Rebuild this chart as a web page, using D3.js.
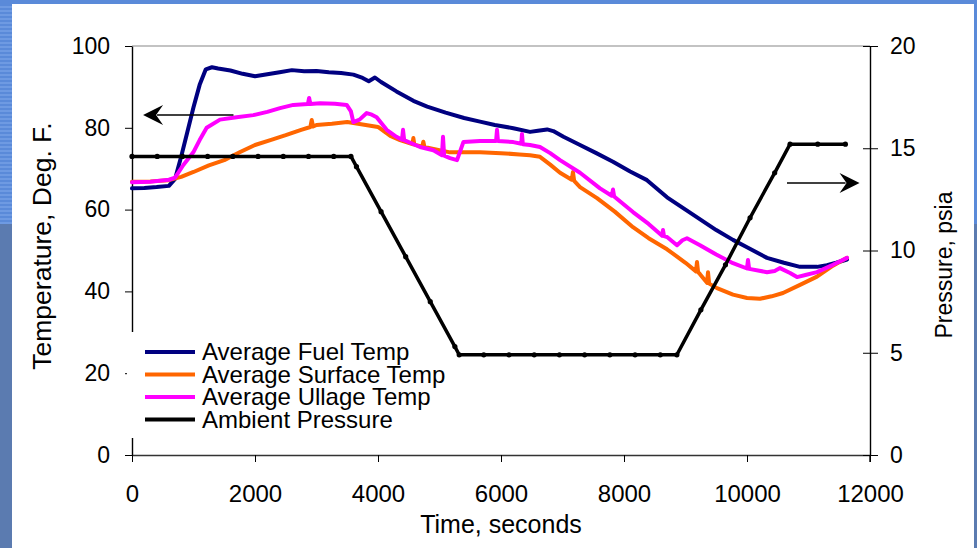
<!DOCTYPE html>
<html><head><meta charset="utf-8">
<script src="https://cdn.jsdelivr.net/npm/d3@7"></script>
<style>html,body{margin:0;padding:0;background:#fff;}svg{display:block;}text{font-family:"Liberation Sans",Arial,sans-serif;fill:#000;}</style>
</head><body><svg id="c" width="977" height="548"></svg>
<script>
// ---- data ----
const fuelTime = [0,200,400,600,700,800,900,1000,1100,1200,1300,1400,1600,1800,2000,2200,2400,2600,2800,3000,3200,3400,3600,3750,3850,3950,4050,4300,4575,4800,5100,5400,5659,5900,6200,6472,6600,6750,6850,7016,7285,7550,7821,8100,8374,8700,9000,9250,9500,9772,10000,10325,10600,10862,11138,11300,11450,11626];
const fuelTemp = [65.2,65.3,65.5,65.8,67.5,73,79,85,90.5,94.3,94.8,94.5,94,93.2,92.6,93.1,93.6,94.1,93.8,93.9,93.6,93.4,93.0,92.2,91.4,92.3,91.2,88.9,86.6,85.2,83.7,82.4,81.5,80.7,79.9,79.0,79.3,79.6,79.2,77.8,75.8,73.8,71.7,69.3,67.2,63.0,60.0,57.5,55.0,52.6,50.8,48.2,47.0,46.0,46.0,46.4,47.0,47.8];

const surfTime = [0,300,600,800,1000,1250,1500,1750,2000,2250,2500,2750,2900,2922,2945,3000,3250,3500,3750,4000,4200,4358,4560,4575,4590,4720,4737,4755,4846,5171,5400,5659,6000,6300,6472,6634,6800,6960,7150,7170,7190,7285,7561,7850,8146,8400,8700,9000,9170,9187,9205,9236,9350,9366,9385,9512,9772,10000,10211,10400,10585,10862,11138,11398,11626];
const surfTemp = [66.8,66.9,67.2,68.0,69.2,70.8,72.1,74.0,75.8,77.0,78.2,79.5,80.2,81.9,80.3,80.7,81.0,81.4,80.8,80.2,78.0,77.0,76.0,77.5,75.9,75.4,76.6,75.3,75.0,74.0,74.0,74.0,73.8,73.5,73.3,72.9,71.0,69.0,67.3,69.2,67.0,65.5,62.8,59.5,55.7,53.0,50.3,47.0,44.9,47.2,44.7,44.2,42.1,44.7,41.9,40.8,39.2,38.4,38.2,38.8,39.6,41.6,43.6,46.3,48.2];

const ullTime = [0,300,600,700,835,997,1100,1214,1431,1700,1973,2200,2407,2623,2860,2880,2900,3057,3300,3491,3560,3599,3700,3816,3900,3978,4141,4300,4390,4407,4425,4683,4900,5040,5057,5075,5171,5285,5388,5659,5920,5935,5950,6200,6330,6341,6355,6472,6634,6800,6960,7285,7610,7800,7821,7840,8146,8400,8620,8634,8650,8700,8862,8950,9024,9236,9500,9772,10000,10016,10035,10325,10450,10537,10700,10813,10950,11138,11398,11626];
const ullTemp = [66.7,66.8,67.3,67.8,70.9,74.0,77.0,80.0,82.0,82.6,83.1,83.9,84.8,85.6,85.8,87.3,85.8,86.0,85.9,85.6,84.0,81.4,82.0,83.6,83.2,82.6,79.5,77.8,77.1,79.5,77.0,75.3,74.5,73.3,77.8,73.2,72.6,72.1,76.5,76.8,76.8,79.5,76.8,76.5,76.1,78.5,76.0,75.8,75.3,73.8,72.1,69.0,65.2,63.4,64.9,63.2,59.4,56.5,53.6,55.0,53.5,53.3,51.3,52.5,53.0,51.3,49.0,46.9,45.6,47.7,45.5,44.7,45.0,45.7,44.5,43.5,44.0,44.7,46.5,48.2];

const pressTime = [0,410,820,1230,1640,2050,2460,2870,3280,3560,3650,4050,4450,4850,5250,5320,5720,6130,6540,6950,7360,7770,8180,8590,8860,9250,9650,10050,10450,10700,11150,11600];
const pressVal  = [14.6,14.6,14.6,14.6,14.6,14.6,14.6,14.6,14.6,14.6,14.1,11.9,9.7,7.5,5.3,4.9,4.9,4.9,4.9,4.9,4.9,4.9,4.9,4.9,4.9,7.1,9.3,11.6,13.8,15.2,15.2,15.2];

const seriesNames = ["Average Fuel Temp","Average Surface Temp","Average Ullage Temp","Ambient Pressure"];
const seriesColors = ["#000080","#ff6600","#ff00ff","#000000"];
const xTicks = [0,2000,4000,6000,8000,10000,12000];
const yLeftTicks = [0,20,40,60,80,100];
const yRightTicks = [0,5,10,15,20];
// annotation arrows (data coords)
const arrowLeft = {t0:1650, t1:180, v:83.1};
const arrowRight = {t0:10650, t1:11830, v:13.3};

// ---- drawing ----
const svg = d3.select("#c");
const W = 977, H = 548;
const L = 132, R = 870, T = 46, B = 455;

// frame background
svg.append("rect").attr("x",0).attr("y",0).attr("width",W).attr("height",H).attr("fill","#5b7bb0");
svg.append("rect").attr("x",0).attr("y",0).attr("width",W).attr("height",224).attr("fill","#5a8ad9");
for (let y=6; y<224; y+=4) {
  svg.append("rect").attr("x",0).attr("y",y).attr("width",12).attr("height",2).attr("fill","#6e9ae2");
}
svg.append("rect").attr("x",12).attr("y",4).attr("width",962).attr("height",H-4).attr("fill","#fff");

const x = d3.scaleLinear().domain([0,12000]).range([L,R]);
const yL = d3.scaleLinear().domain([0,100]).range([B,T]);
const yR = d3.scaleLinear().domain([0,20]).range([B,T]);

// top border
svg.append("line").attr("x1",L).attr("x2",R).attr("y1",T).attr("y2",T).attr("stroke","#888").attr("stroke-width",1.2);

const lineL = d3.line().x(d=>x(d[0])).y(d=>yL(d[1]));
const lineR = d3.line().x(d=>x(d[0])).y(d=>yR(d[1]));
const zip = (a,b)=>a.map((v,i)=>[v,b[i]]);

// axes
const gx = svg.append("g").attr("transform",`translate(0,${B})`)
  .call(d3.axisBottom(x).tickValues(xTicks).tickFormat(d3.format("d")).tickSize(7).tickSizeOuter(0).tickPadding(23));
gx.select(".domain").attr("stroke","#333").attr("stroke-width",1.6);
gx.selectAll("line").attr("stroke","#000");
gx.selectAll("text").attr("font-size","24px").attr("font-family","Liberation Sans, Arial");

const gl = svg.append("g").attr("transform",`translate(${L},0)`)
  .call(d3.axisLeft(yL).tickValues(yLeftTicks).tickSize(7).tickSizeOuter(0).tickPadding(15));
gl.select(".domain").attr("stroke","#000").attr("stroke-width",1.4);
gl.selectAll("text").attr("font-size","23px").attr("font-family","Liberation Sans, Arial");

const gr = svg.append("g").attr("transform",`translate(${R},0)`)
  .call(d3.axisRight(yR).tickValues(yRightTicks).tickSize(8).tickSizeOuter(0).tickPadding(12));
gr.select(".domain").attr("stroke","#000").attr("stroke-width",1.4);
gr.selectAll(".tick line").attr("x1",-7);
gr.selectAll("text").attr("font-size","23px").attr("font-family","Liberation Sans, Arial");
svg.append("line").attr("x1",R).attr("x2",R).attr("y1",B).attr("y2",B+7).attr("stroke","#000").attr("stroke-width",1.4);

// legend background (drawn under the series lines' pressure curve)
const lg = svg.append("g");
lg.append("rect").attr("x",127).attr("y",332).attr("width",313).attr("height",106).attr("fill","#fff");

const data = [zip(fuelTime,fuelTemp), zip(surfTime,surfTemp), zip(ullTime,ullTemp)];
data.forEach((d,i)=>{
  svg.append("path").attr("d",lineL(d)).attr("fill","none").attr("stroke",seriesColors[i])
    .attr("stroke-width",4).attr("stroke-linejoin","round").attr("stroke-linecap","round");
});
const pd = zip(pressTime,pressVal);
svg.append("path").attr("d",lineR(pd)).attr("fill","none").attr("stroke","#000")
  .attr("stroke-width",3.5).attr("stroke-linejoin","round");
svg.selectAll("circle.p").data(pd).enter().append("circle").attr("class","p")
  .attr("cx",d=>x(d[0])).attr("cy",d=>yR(d[1])).attr("r",2.6).attr("fill","#000");

// titles
svg.append("text").attr("x",(L+R)/2).attr("y",533).attr("text-anchor","middle").attr("font-size","25px").text("Time, seconds");
svg.append("text").attr("transform","translate(51,246) rotate(-90)").attr("text-anchor","middle").attr("font-size","26.5px").text("Temperature, Deg. F.");
svg.append("text").attr("transform","translate(952,265) rotate(-90)").attr("text-anchor","middle").attr("font-size","23px").text("Pressure, psia");

// arrows
function arrow(a, ys){
  const xa = x(a.t0), xb = x(a.t1), yy = ys(a.v);
  const dir = Math.sign(xb - xa);
  svg.append("line").attr("x1",xa).attr("x2",xb - dir*14).attr("y1",yy).attr("y2",yy).attr("stroke","#000").attr("stroke-width",1.5);
  svg.append("path").attr("d",`M${xb},${yy} L${xb-dir*20},${yy-10} L${xb-dir*13},${yy} L${xb-dir*20},${yy+10} Z`).attr("fill","#000");
}
arrow(arrowLeft, yL);
arrow(arrowRight, yR);

// legend entries
seriesNames.forEach((n,i)=>{
  const yy = 352 + i*22.5;
  lg.append("line").attr("x1",145).attr("x2",195).attr("y1",yy).attr("y2",yy).attr("stroke",seriesColors[i]).attr("stroke-width",4);
  svg.append("text").attr("x",202).attr("y",yy+8).attr("font-size","24px").text(n);
});
</script></body></html>
